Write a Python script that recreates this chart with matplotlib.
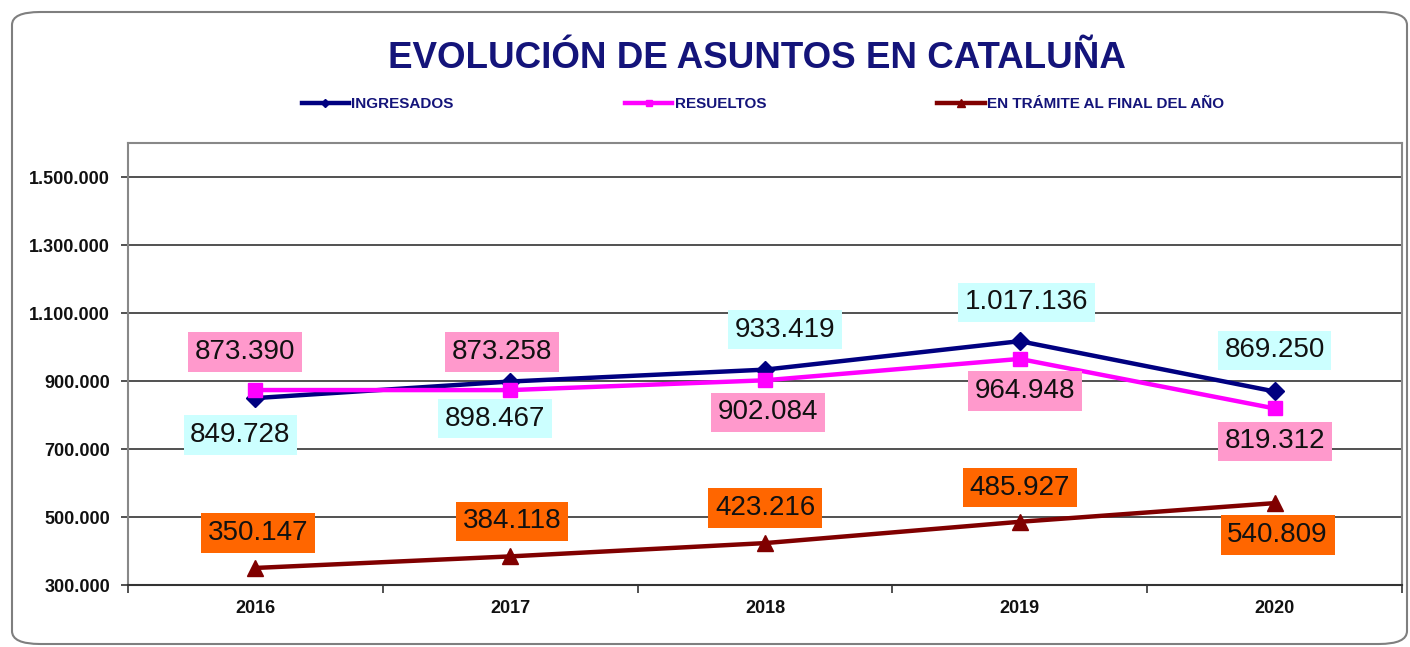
import numpy as np
import matplotlib
matplotlib.use("Agg")
from matplotlib import pyplot as plt
from matplotlib.patches import FancyBboxPatch

plt.rcParams['font.family'] = ['Liberation Sans', 'DejaVu Sans']

years = ['2016', '2017', '2018', '2019', '2020']
ingresados = [849728, 898467, 933419, 1017136, 869250]
resueltos = [873390, 873258, 902084, 964948, 819312]
en_tramite = [350147, 384118, 423216, 485927, 540809]
y_ticks = [300000, 500000, 700000, 900000, 1100000, 1300000, 1500000]

# desplazamiento de cada etiqueta (px) respecto al punto
off_ing = [(-15, -37), (-15, -37), (20, 40), (7, 39), (0, 41)]
off_res = [(-10, 38), (-8, 38), (3, -32), (5, -32), (0, -33)]
off_tra = [(3, 35), (2, 35), (0, 35), (0, 34), (3, -32)]

def fmt(v):
    return f"{v:,}".replace(",", ".")

fig = plt.figure(figsize=(14.1, 6.47), dpi=100)
fig.patches.append(FancyBboxPatch((12 / 1410, 3 / 647), 1395 / 1410, 632 / 647,
                                  boxstyle="round,pad=0,rounding_size=0.02",
                                  transform=fig.transFigure, fill=False,
                                  edgecolor='#7f7f7f', linewidth=1.5))
ax = fig.add_axes([128 / 1410, 1 - 585 / 647, 1274 / 1410, 442 / 647])

x = np.arange(len(years))
l1, = ax.plot(x, ingresados, color='#000080', lw=3.2, marker='D', ms=9, label='INGRESADOS', zorder=4)
l2, = ax.plot(x, resueltos, color='#ff00ff', lw=3.2, marker='s', ms=10, label='RESUELTOS', zorder=4)
l3, = ax.plot(x, en_tramite, color='#800000', lw=3.2, marker='^', ms=11, label='EN TRÁMITE AL FINAL DEL AÑO', zorder=4)

for vals, offs, bg in [(ingresados, off_ing, '#ccffff'), (resueltos, off_res, '#ff99cc'),
                       (en_tramite, off_tra, '#ff6600')]:
    for i, v in enumerate(vals):
        ax.annotate(fmt(v), (i, v), xytext=(offs[i][0] * 0.72, offs[i][1] * 0.72),
                    textcoords='offset points', ha='center', va='center', fontsize=20,
                    color='#111111', zorder=5,
                    bbox=dict(boxstyle='square,pad=0.24', fc=bg, ec='none'))

ax.set_xlim(-0.5, 4.5)
ax.set_ylim(300000, 1600000)
ax.set_yticks(y_ticks)
ax.set_yticklabels([fmt(v) for v in y_ticks], fontsize=13, fontweight='bold', color='#111111')
ax.set_xticks(x)
ax.set_xticklabels(years, fontsize=13, fontweight='bold', color='#111111')
ax.set_xticks(np.arange(-0.5, 5, 1), minor=True)
ax.tick_params(axis='x', which='major', length=0, pad=11)
ax.tick_params(axis='x', which='minor', length=6, width=1.2, color='#333333')
ax.tick_params(axis='y', length=5, width=1.2, color='#333333', pad=8)
ax.grid(axis='y', color='#333333', lw=1.2)
for s in ['left', 'right', 'top']:
    ax.spines[s].set_color('#888888')
    ax.spines[s].set_linewidth(1.5)
ax.spines['bottom'].set_color('#333333')
ax.spines['bottom'].set_linewidth(1.5)

fig.text(757 / 1410, 1 - 58 / 647, 'EVOLUCIÓN DE ASUNTOS EN CATALUÑA', ha='center', va='center',
         fontsize=26.5, fontweight='bold', color='#14147a')
leg = fig.legend(handles=[l1, l2, l3], loc='center left', bbox_to_anchor=(288 / 1410, 1 - 104 / 647),
                 ncol=3, frameon=False, fontsize=11, handlelength=3.1, handletextpad=0.15,
                 columnspacing=11.2, markerscale=0.5)
for t in leg.get_texts():
    t.set_color('#14147a')
    t.set_fontweight('bold')

plt.savefig("out.png", dpi=100)
plt.close()
